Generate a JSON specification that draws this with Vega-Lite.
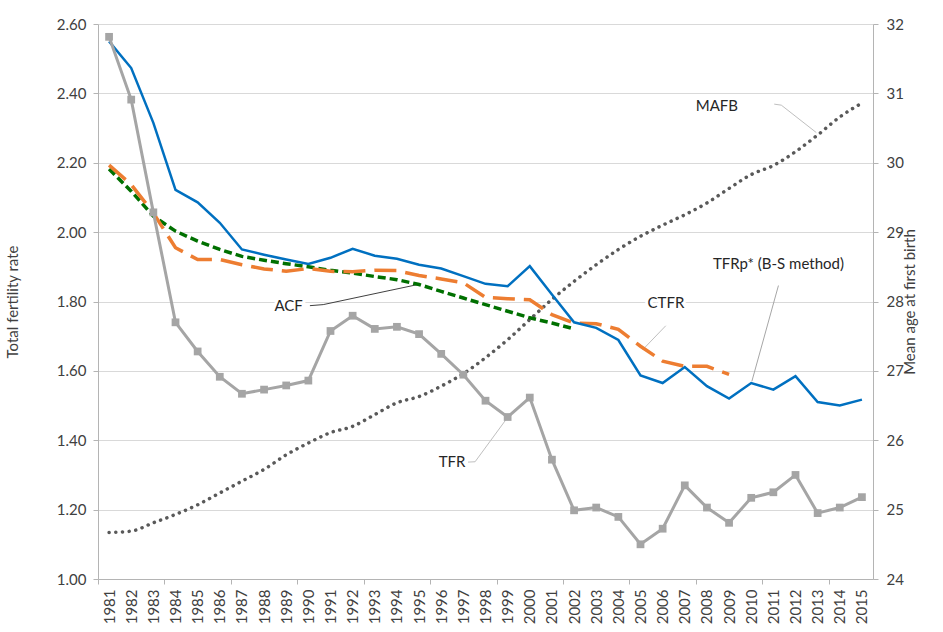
{
  "$schema": "https://vega.github.io/schema/vega-lite/v6.json",
  "width": 775,
  "height": 555,
  "autosize": {"type": "none"},
  "padding": {"left": 98, "top": 24, "right": 70, "bottom": 53},
  "background": "white",
  "config": {"view": {"stroke": null}, "font": "Lato"},
  "datasets": {
    "tfr": [
      {"year": 1981, "value": 2.563}, {"year": 1982, "value": 2.382}, {"year": 1983, "value": 2.057},
      {"year": 1984, "value": 1.74}, {"year": 1985, "value": 1.656}, {"year": 1986, "value": 1.583},
      {"year": 1987, "value": 1.534}, {"year": 1988, "value": 1.546}, {"year": 1989, "value": 1.558},
      {"year": 1990, "value": 1.572}, {"year": 1991, "value": 1.715}, {"year": 1992, "value": 1.759},
      {"year": 1993, "value": 1.721}, {"year": 1994, "value": 1.727}, {"year": 1995, "value": 1.706},
      {"year": 1996, "value": 1.649}, {"year": 1997, "value": 1.589}, {"year": 1998, "value": 1.514},
      {"year": 1999, "value": 1.467}, {"year": 2000, "value": 1.523}, {"year": 2001, "value": 1.344},
      {"year": 2002, "value": 1.198}, {"year": 2003, "value": 1.206}, {"year": 2004, "value": 1.179},
      {"year": 2005, "value": 1.1}, {"year": 2006, "value": 1.145}, {"year": 2007, "value": 1.27},
      {"year": 2008, "value": 1.206}, {"year": 2009, "value": 1.162}, {"year": 2010, "value": 1.234},
      {"year": 2011, "value": 1.25}, {"year": 2012, "value": 1.3}, {"year": 2013, "value": 1.19},
      {"year": 2014, "value": 1.206}, {"year": 2015, "value": 1.236}
    ],
    "tfrp": [
      {"year": 1981, "value": 2.55}, {"year": 1982, "value": 2.473}, {"year": 1983, "value": 2.315},
      {"year": 1984, "value": 2.122}, {"year": 1985, "value": 2.086}, {"year": 1986, "value": 2.027},
      {"year": 1987, "value": 1.95}, {"year": 1988, "value": 1.935}, {"year": 1989, "value": 1.921},
      {"year": 1990, "value": 1.908}, {"year": 1991, "value": 1.926}, {"year": 1992, "value": 1.952},
      {"year": 1993, "value": 1.932}, {"year": 1994, "value": 1.923}, {"year": 1995, "value": 1.906},
      {"year": 1996, "value": 1.895}, {"year": 1997, "value": 1.873}, {"year": 1998, "value": 1.851},
      {"year": 1999, "value": 1.844}, {"year": 2000, "value": 1.902}, {"year": 2001, "value": 1.82},
      {"year": 2002, "value": 1.74}, {"year": 2003, "value": 1.724}, {"year": 2004, "value": 1.689},
      {"year": 2005, "value": 1.587}, {"year": 2006, "value": 1.565}, {"year": 2007, "value": 1.611},
      {"year": 2008, "value": 1.556}, {"year": 2009, "value": 1.52}, {"year": 2010, "value": 1.565},
      {"year": 2011, "value": 1.546}, {"year": 2012, "value": 1.585}, {"year": 2013, "value": 1.51},
      {"year": 2014, "value": 1.5}, {"year": 2015, "value": 1.517}
    ],
    "ctfr": [
      {"year": 1981, "value": 2.193}, {"year": 1982, "value": 2.137}, {"year": 1983, "value": 2.055},
      {"year": 1984, "value": 1.955}, {"year": 1985, "value": 1.921}, {"year": 1986, "value": 1.921},
      {"year": 1987, "value": 1.906}, {"year": 1988, "value": 1.894}, {"year": 1989, "value": 1.887},
      {"year": 1990, "value": 1.895}, {"year": 1991, "value": 1.887}, {"year": 1992, "value": 1.886},
      {"year": 1993, "value": 1.89}, {"year": 1994, "value": 1.889}, {"year": 1995, "value": 1.875},
      {"year": 1996, "value": 1.865}, {"year": 1997, "value": 1.854}, {"year": 1998, "value": 1.812},
      {"year": 1999, "value": 1.808}, {"year": 2000, "value": 1.805}, {"year": 2001, "value": 1.762},
      {"year": 2002, "value": 1.738}, {"year": 2003, "value": 1.736}, {"year": 2004, "value": 1.72},
      {"year": 2005, "value": 1.671}, {"year": 2006, "value": 1.628}, {"year": 2007, "value": 1.613},
      {"year": 2008, "value": 1.613}, {"year": 2009, "value": 1.59}
    ],
    "acf": [
      {"year": 1981, "value": 2.182}, {"year": 1982, "value": 2.118}, {"year": 1983, "value": 2.046},
      {"year": 1984, "value": 2.003}, {"year": 1985, "value": 1.974}, {"year": 1986, "value": 1.95},
      {"year": 1987, "value": 1.93}, {"year": 1988, "value": 1.919}, {"year": 1989, "value": 1.909},
      {"year": 1990, "value": 1.9}, {"year": 1991, "value": 1.89}, {"year": 1992, "value": 1.882},
      {"year": 1993, "value": 1.872}, {"year": 1994, "value": 1.863}, {"year": 1995, "value": 1.849},
      {"year": 1996, "value": 1.829}, {"year": 1997, "value": 1.81}, {"year": 1998, "value": 1.791},
      {"year": 1999, "value": 1.772}, {"year": 2000, "value": 1.753}, {"year": 2001, "value": 1.738},
      {"year": 2002, "value": 1.721}
    ],
    "mafb": [
      {"year": 1981, "age": 24.67}, {"year": 1982, "age": 24.69}, {"year": 1983, "age": 24.81},
      {"year": 1984, "age": 24.93}, {"year": 1985, "age": 25.07}, {"year": 1986, "age": 25.24},
      {"year": 1987, "age": 25.41}, {"year": 1988, "age": 25.58}, {"year": 1989, "age": 25.79},
      {"year": 1990, "age": 25.96}, {"year": 1991, "age": 26.11}, {"year": 1992, "age": 26.2},
      {"year": 1993, "age": 26.37}, {"year": 1994, "age": 26.54}, {"year": 1995, "age": 26.63},
      {"year": 1996, "age": 26.78}, {"year": 1997, "age": 26.96}, {"year": 1998, "age": 27.19},
      {"year": 1999, "age": 27.45}, {"year": 2000, "age": 27.74}, {"year": 2001, "age": 28.03},
      {"year": 2002, "age": 28.29}, {"year": 2003, "age": 28.53}, {"year": 2004, "age": 28.75},
      {"year": 2005, "age": 28.94}, {"year": 2006, "age": 29.1}, {"year": 2007, "age": 29.25},
      {"year": 2008, "age": 29.42}, {"year": 2009, "age": 29.63}, {"year": 2010, "age": 29.83},
      {"year": 2011, "age": 29.96}, {"year": 2012, "age": 30.16}, {"year": 2013, "age": 30.4},
      {"year": 2014, "age": 30.66}, {"year": 2015, "age": 30.86}
    ],
    "leaders": [
      {"id": "ACF", "seq": 1, "year": 1990.07, "value": 1.788},
      {"id": "ACF", "seq": 2, "year": 1990.67, "value": 1.791},
      {"id": "ACF", "seq": 3, "year": 1993.69, "value": 1.832},
      {"id": "ACF", "seq": 4, "year": 1994.95, "value": 1.849},
      {"id": "MAFB", "seq": 1, "year": 2011.04, "value": 2.369},
      {"id": "MAFB", "seq": 2, "year": 2011.36, "value": 2.366},
      {"id": "MAFB", "seq": 3, "year": 2012.94, "value": 2.287},
      {"id": "TFRp", "seq": 1, "year": 2011.23, "value": 1.846},
      {"id": "TFRp", "seq": 2, "year": 2010.03, "value": 1.57},
      {"id": "CTFR", "seq": 1, "year": 2006.14, "value": 1.73},
      {"id": "CTFR", "seq": 2, "year": 2005.1, "value": 1.661},
      {"id": "TFR", "seq": 1, "year": 1997.21, "value": 1.337},
      {"id": "TFR", "seq": 2, "year": 1997.53, "value": 1.338},
      {"id": "TFR", "seq": 3, "year": 1999.0, "value": 1.466}
    ],
    "notes": [
      {"label": "MAFB", "year": 2008.45, "value": 2.364},
      {"label": "TFRp* (B-S method)", "year": 2011.23, "value": 1.909},
      {"label": "CTFR", "year": 2006.15, "value": 1.796},
      {"label": "ACF", "year": 1989.11, "value": 1.786},
      {"label": "TFR", "year": 1996.49, "value": 1.337}
    ]
  },
  "encoding": {
    "x": {
      "field": "year",
      "type": "quantitative",
      "scale": {"domain": [1980.5, 2015.5], "nice": false, "zero": false},
      "axis": {
        "title": null,
        "grid": false,
        "values": [1980.5, 1981, 1982, 1983, 1983.5, 1984, 1985, 1986, 1986.5, 1987, 1988, 1989, 1989.5, 1990, 1991, 1992, 1992.5, 1993, 1994, 1995, 1995.5, 1996, 1997, 1998, 1998.5, 1999, 2000, 2001, 2001.5, 2002, 2003, 2004, 2004.5, 2005, 2006, 2007, 2007.5, 2008, 2009, 2010, 2010.5, 2011, 2012, 2013, 2013.5, 2014, 2015],
        "labelExpr": "datum.value % 1 === 0 ? format(datum.value, 'd') : ''",
        "labelAngle": -90,
        "labelOverlap": false,
        "labelFlush": false,
        "labelFont": "Lato",
        "labelFontSize": 15,
        "labelColor": "#404040",
        "labelPadding": 5,
        "tickSize": 5,
        "tickColor": "#b4b4b4",
        "tickOpacity": {"condition": {"test": "datum.value % 1 !== 0", "value": 1}, "value": 0},
        "domainColor": "#b4b4b4"
      }
    }
  },
  "layer": [
    {
      "data": {"name": "mafb"},
      "mark": {"type": "line", "color": "#595959", "strokeWidth": 3.5, "strokeDash": [0.1, 6.6], "strokeCap": "round", "interpolate": "monotone"},
      "encoding": {
        "y": {
          "field": "age",
          "type": "quantitative",
          "scale": {"domain": [24, 32], "nice": false, "zero": false},
          "axis": {
            "orient": "right",
            "title": "Mean age at first birth",
            "titleAngle": -90,
            "values": [24, 25, 26, 27, 28, 29, 30, 31, 32],
            "grid": false,
            "domainColor": "#b4b4b4",
            "tickColor": "#b4b4b4",
            "tickSize": 5,
            "labelFont": "Lato",
            "labelFontSize": 15,
            "labelColor": "#404040",
            "labelPadding": 8,
            "titleFont": "Lato",
            "titleFontSize": 15,
            "titleFontWeight": "normal",
            "titleColor": "#404040",
            "titlePadding": 14
          }
        }
      }
    },
    {
      "encoding": {
        "y": {
          "field": "value",
          "type": "quantitative",
          "scale": {"domain": [1, 2.6], "nice": false, "zero": false},
          "axis": {
            "title": "Total fertility rate",
            "values": [1, 1.2, 1.4, 1.6, 1.8, 2, 2.2, 2.4, 2.6],
            "format": ".2f",
            "grid": true,
            "gridColor": "#d9d9d9",
            "domainColor": "#b4b4b4",
            "tickColor": "#b4b4b4",
            "tickSize": 5,
            "labelFont": "Lato",
            "labelFontSize": 15,
            "labelColor": "#404040",
            "labelPadding": 7,
            "titleFont": "Lato",
            "titleFontSize": 15,
            "titleFontWeight": "normal",
            "titleColor": "#404040",
            "titlePadding": 36
          }
        }
      },
      "layer": [
        {
          "data": {"name": "leaders"},
          "mark": {"type": "line", "strokeWidth": 1},
          "encoding": {
            "detail": {"field": "id"},
            "order": {"field": "seq", "type": "quantitative"},
            "color": {"field": "id", "type": "nominal", "scale": {"domain": ["ACF", "MAFB", "TFRp", "CTFR", "TFR"], "range": ["#404040", "#bfbfbf", "#a6a6a6", "#bfbfbf", "#bfbfbf"]}, "legend": null}
          }
        },
        {
          "data": {"name": "acf"},
          "mark": {"type": "line", "color": "#007000", "strokeWidth": 3.5, "strokeDash": [8, 4]}
        },
        {
          "data": {"name": "ctfr"},
          "mark": {"type": "line", "color": "#ed7d31", "strokeWidth": 3.5, "strokeDash": [22, 9]}
        },
        {
          "data": {"name": "tfrp"},
          "mark": {"type": "line", "color": "#0070c0", "strokeWidth": 2.5}
        },
        {
          "data": {"name": "tfr"},
          "mark": {"type": "line", "color": "#a5a5a5", "strokeWidth": 3, "point": {"shape": "square", "size": 60, "filled": true, "color": "#a5a5a5"}}
        },
        {
          "data": {"name": "notes"},
          "mark": {"type": "text", "font": "Lato", "fontSize": 15, "align": "center", "baseline": "middle", "stroke": "white", "strokeWidth": 6, "fill": "white"},
          "encoding": {"text": {"field": "label"}}
        },
        {
          "data": {"name": "notes"},
          "mark": {"type": "text", "font": "Lato", "fontSize": 15, "align": "center", "baseline": "middle", "color": "#262626"},
          "encoding": {"text": {"field": "label"}}
        }
      ]
    }
  ],
  "resolve": {"scale": {"y": "independent", "color": "independent"}}
}
